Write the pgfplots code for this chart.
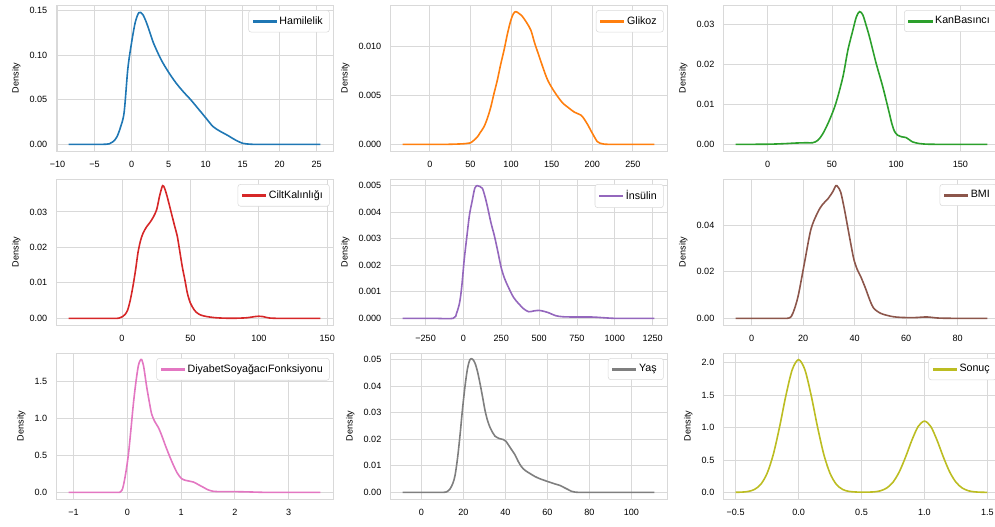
\documentclass[border=0pt]{standalone}
\usepackage{fontspec}
\setmainfont{Liberation Sans}
\usepackage{pgfplots}
\pgfplotsset{compat=1.18}

\definecolor{c0}{HTML}{1F77B4}
\definecolor{c1}{HTML}{FF7F0E}
\definecolor{c2}{HTML}{2CA02C}
\definecolor{c3}{HTML}{D62728}
\definecolor{c4}{HTML}{9467BD}
\definecolor{c5}{HTML}{8C564B}
\definecolor{c6}{HTML}{E377C2}
\definecolor{c7}{HTML}{7F7F7F}
\definecolor{c8}{HTML}{BCBD22}
\definecolor{gridc}{HTML}{D9D9D9}

% one style for all nine density panels (seaborn whitegrid look)
\pgfplotsset{
  kde/.style={
    scale only axis, width=207.75pt, height=109.5pt, anchor=south west,
    scaled ticks=false,
    /pgf/number format/assume math mode=true,
    axis line style={draw=gridc, line width=0.6pt},
    grid=major, major grid style={draw=gridc, line width=0.6pt},
    major tick length=0pt,
    tick label style={font=\fontsize{6.8}{7}\selectfont},
    xticklabel style={yshift=-4pt},
    yticklabel style={xshift=-3pt},
    ylabel={Density},
    ylabel style={font=\fontsize{6.8}{7}\selectfont},
    legend style={at={(0.988,0.965)}, anchor=north east, draw=gridc,
      rounded corners=2pt, fill=white,
      font=\fontsize{8}{9}\selectfont,
      inner xsep=3pt, inner ysep=2.5pt},
    legend cell align=left,
    legend image code/.code={%
      \fill[##1, sharp corners] (0pt,-0.5pt) rectangle (17pt,0.5pt);},
  },
  kdeline/.style={line width=1.2pt, smooth, tension=0.5, mark=none},
}

\begin{document}
\begin{tikzpicture}
\useasboundingbox (0,0) rectangle (746.25pt,395.25pt);

% ---- row 1 ----
\begin{axis}[kde, at={(42pt,282pt)},
  xmin=-10.2, xmax=27.2, ymin=-0.00745, ymax=0.1565,
  xtick={-10,-5,0,5,10,15,20,25},
  xticklabels={−10,−5,0,5,10,15,20,25},
  ytick={0,0.05,0.1,0.15}, yticklabels={0.00,0.05,0.10,0.15}]
\addplot[kdeline, c0] coordinates {(-8.5,0) (-6,0) (-4,0) (-3,0.0006) (-2.5,0.003) (-2,0.008) (-1.5,0.019) (-1,0.036) (-0.5,0.085) (0,0.114) (0.5,0.137) (1,0.148) (1.5,0.146) (2,0.137) (2.5,0.125) (3,0.113) (4,0.095) (5,0.081) (6,0.069) (7,0.059) (8,0.05) (9,0.04) (10,0.03) (11,0.02) (12,0.0145) (13,0.01) (14,0.005) (15,0.0012) (16,0.0002) (17,0) (21,0) (25.5,0)};
\addlegendentry{Hamilelik}
\end{axis}

\begin{axis}[kde, at={(292.5pt,282pt)},
  xmin=-49, xmax=292, ymin=-0.00068, ymax=0.01428,
  xtick={0,50,100,150,200,250},
  ytick={0,0.005,0.01}, yticklabels={0.000,0.005,0.010}]
\addplot[kdeline, c1] coordinates {(-33.5,0) (0,0) (20,0) (40,0.00005) (46,0.0001) (50,0.00015) (54,0.0004) (58.5,0.00075) (62,0.0012) (66.7,0.0018) (71,0.0027) (75,0.0038) (79,0.0052) (83.2,0.0066) (87,0.0081) (91.5,0.0097) (95.5,0.0113) (99.7,0.0127) (103,0.0134) (106,0.0136) (110,0.0134) (114,0.0131) (119,0.0125) (124.4,0.0117) (129,0.0104) (134.7,0.009) (140,0.0077) (145,0.0066) (151,0.0057) (157.4,0.0049) (164,0.0042) (170,0.0038) (178,0.0033) (186,0.003) (190,0.0026) (194.5,0.002) (199,0.0013) (202.7,0.00075) (206,0.0003) (209,0.00014) (215,0.00002) (225,0) (250,0) (276.5,0)};
\addlegendentry{Glikoz}
\end{axis}

\begin{axis}[kde, at={(542.25pt,282pt)},
  xmin=-34.8, xmax=180.8, ymin=-0.00166, ymax=0.03476,
  xtick={0,50,100,150},
  ytick={0,0.01,0.02,0.03}, yticklabels={0.00,0.01,0.02,0.03}]
\addplot[kdeline, c2] coordinates {(-25,0) (0,0.00003) (15,0.0002) (20,0.0003) (30,0.0004) (35,0.0004) (39,0.001) (43,0.0027) (48,0.006) (53,0.0102) (58.5,0.0168) (62.4,0.0235) (66.3,0.0285) (69,0.0318) (71.5,0.0331) (74,0.0323) (76.5,0.0298) (79.2,0.0268) (84.4,0.0202) (89.6,0.0143) (94.7,0.0077) (96.5,0.0053) (98.6,0.0033) (101,0.0023) (104,0.0019) (107.6,0.0017) (110,0.0012) (112.8,0.0006) (118,0.0002) (125,0.00003) (140,0) (171,0)};
\addlegendentry{KanBasıncı}
\end{axis}

% ---- row 2 ----
\begin{axis}[kde, at={(42pt,151.5pt)},
  xmin=-48.2, xmax=154.2, ymin=-0.00187, ymax=0.03927,
  xtick={0,50,100,150},
  ytick={0,0.01,0.02,0.03}, yticklabels={0.00,0.01,0.02,0.03}]
\addplot[kdeline, c3] coordinates {(-39,0) (-20,0) (-5,0) (-2,0.0001) (0.5,0.0005) (2.5,0.0012) (4.2,0.0024) (6,0.005) (8,0.009) (10,0.0138) (11.7,0.0185) (13.5,0.0218) (15.4,0.024) (18,0.0258) (20.4,0.027) (23,0.0286) (25.4,0.0307) (27.5,0.0345) (29.7,0.0374) (31.2,0.0366) (32.9,0.0345) (34.7,0.0318) (36.6,0.0289) (38.5,0.026) (40.4,0.0232) (42.2,0.019) (44,0.0147) (46,0.0108) (47.8,0.0071) (50,0.0043) (52.8,0.0024) (55,0.0015) (57.8,0.0009) (62,0.0005) (67.8,0.0002) (75,0.00005) (85,0.00005) (92,0.0002) (97,0.0005) (100,0.0006) (103,0.0005) (107.7,0.0001) (115,0) (130,0) (145,0)};
\addlegendentry{CiltKalınlığı}
\end{axis}

\begin{axis}[kde, at={(292.5pt,151.5pt)},
  xmin=-485.2, xmax=1345.2, ymin=-0.00025, ymax=0.00525,
  xtick={-250,0,250,500,750,1000,1250},
  xticklabels={−250,0,250,500,750,1000,1250},
  ytick={0,0.001,0.002,0.003,0.004,0.005},
  yticklabels={0.000,0.001,0.002,0.003,0.004,0.005}]
\addplot[kdeline, c4] coordinates {(-402,0) (-200,0) (-68,0) (-45,0.0002) (-25,0.0006) (-11,0.0012) (5,0.0022) (23,0.0031) (40,0.0039) (57,0.0044) (75,0.0049) (91,0.005) (108,0.00497) (125,0.0049) (142,0.0046) (159,0.0042) (182,0.0036) (205,0.0031) (228,0.0025) (250,0.0019) (272,0.0015) (295,0.0012) (330,0.0008) (364,0.00056) (400,0.00035) (432,0.00025) (465,0.00028) (500,0.0003) (535,0.00026) (568,0.0002) (610,0.0001) (659,0.00006) (750,0.00005) (850,0.00005) (909,0.00003) (1000,0) (1100,0) (1262,0)};
\addlegendentry{İnsülin}
\end{axis}

\begin{axis}[kde, at={(542.25pt,151.5pt)},
  xmin=-11.14, xmax=96.44, ymin=-0.00286, ymax=0.05996,
  xtick={0,20,40,60,80},
  ytick={0,0.02,0.04,0.06}, yticklabels={0.00,0.02,0.04,0.06}]
\addplot[kdeline, c5] coordinates {(-6.25,0) (5,0) (12,0) (14.7,0.0002) (16,0.0022) (18,0.0094) (20.5,0.0239) (23,0.0383) (25.6,0.0455) (27.5,0.049) (29.5,0.0513) (31.5,0.0545) (32.7,0.0571) (33.5,0.0565) (34.6,0.0542) (36,0.047) (37.2,0.0398) (38.5,0.032) (39.7,0.0253) (41,0.021) (42.3,0.0181) (44,0.0135) (44.9,0.0108) (46,0.0075) (47.4,0.0043) (50,0.0022) (52.5,0.0013) (55,0.0007) (58,0.0004) (62.8,0.0003) (66,0.0005) (68,0.0006) (70,0.0004) (73,0.0001) (80,0) (91.55,0)};
\addlegendentry{BMI}
\end{axis}

% ---- row 3 ----
\begin{axis}[kde, at={(42pt,21pt)},
  xmin=-1.327, xmax=3.825, ymin=-0.09, ymax=1.89,
  xtick={-1,0,1,2,3}, xticklabels={−1,0,1,2,3},
  ytick={0,0.5,1,1.5}, yticklabels={0.0,0.5,1.0,1.5}]
\addplot[kdeline, c6] coordinates {(-1.093,0) (-0.6,0) (-0.2,0) (-0.136,0.003) (-0.1,0.03) (-0.074,0.09) (-0.03,0.26) (0.019,0.51) (0.065,0.84) (0.112,1.2) (0.16,1.5) (0.205,1.72) (0.24,1.79) (0.267,1.8) (0.3,1.72) (0.33,1.58) (0.36,1.43) (0.41,1.22) (0.453,1.06) (0.51,0.96) (0.577,0.88) (0.64,0.77) (0.7,0.65) (0.78,0.5) (0.856,0.37) (0.93,0.26) (1.01,0.185) (1.1,0.16) (1.23,0.14) (1.32,0.105) (1.41,0.07) (1.5,0.035) (1.6,0.014) (1.75,0.01) (1.97,0.01) (2.2,0.007) (2.4,0.003) (2.59,0) (3.1,0) (3.591,0)};
\addlegendentry{DiyabetSoyağacıFonksiyonu}
\end{axis}

\begin{axis}[kde, at={(292.5pt,21pt)},
  xmin=-15, xmax=117, ymin=-0.0025, ymax=0.0525,
  xtick={0,20,40,60,80,100},
  ytick={0,0.01,0.02,0.03,0.04,0.05},
  yticklabels={0.00,0.01,0.02,0.03,0.04,0.05}]
\addplot[kdeline, c7] coordinates {(-9,0) (5,0) (10,0) (12,0.0002) (13.6,0.0013) (15,0.0035) (16,0.0064) (17.2,0.013) (18.4,0.0218) (19.5,0.031) (20.7,0.0397) (21.9,0.0465) (23.1,0.05) (24.3,0.0502) (25.5,0.0487) (26.7,0.0455) (27.9,0.041) (29.1,0.036) (30.3,0.0308) (31.5,0.027) (32.7,0.0244) (34,0.0224) (35,0.0212) (37,0.0203) (39,0.0199) (40.3,0.0192) (41.4,0.0179) (43,0.016) (44.6,0.0141) (46,0.0118) (47.7,0.0096) (49.5,0.0082) (51.7,0.0071) (54,0.006) (56.5,0.0051) (59,0.0044) (61.2,0.0038) (63.5,0.0032) (66,0.0026) (68,0.0018) (70,0.001) (71.5,0.0004) (73.2,0.0001) (76,0) (90,0) (111,0)};
\addlegendentry{Yaş}
\end{axis}

\begin{axis}[kde, at={(542.25pt,21pt)},
  xmin=-0.6, xmax=1.6, ymin=-0.1025, ymax=2.1525,
  xtick={-0.5,0,0.5,1,1.5}, xticklabels={−0.5,0.0,0.5,1.0,1.5},
  ytick={0,0.5,1,1.5,2}, yticklabels={0.0,0.5,1.0,1.5,2.0}]
\addplot[kdeline, c8] coordinates {(-0.5,0.001) (-0.45,0.004) (-0.4,0.014) (-0.35,0.045) (-0.3,0.124) (-0.25,0.293) (-0.2,0.59) (-0.15,1.017) (-0.1,1.5) (-0.05,1.896) (0,2.05) (0.05,1.896) (0.1,1.5) (0.15,1.017) (0.2,0.59) (0.25,0.293) (0.3,0.124) (0.35,0.045) (0.4,0.015) (0.45,0.006) (0.5,0.0024) (0.55,0.004) (0.6,0.0076) (0.65,0.024) (0.7,0.067) (0.75,0.157) (0.8,0.317) (0.85,0.546) (0.9,0.805) (0.95,1.018) (1,1.1) (1.05,1.018) (1.1,0.805) (1.15,0.546) (1.2,0.317) (1.25,0.157) (1.3,0.067) (1.35,0.024) (1.4,0.0076) (1.45,0.002) (1.5,0.0004)};
\addlegendentry{Sonuç}
\end{axis}
\end{tikzpicture}
\end{document}
